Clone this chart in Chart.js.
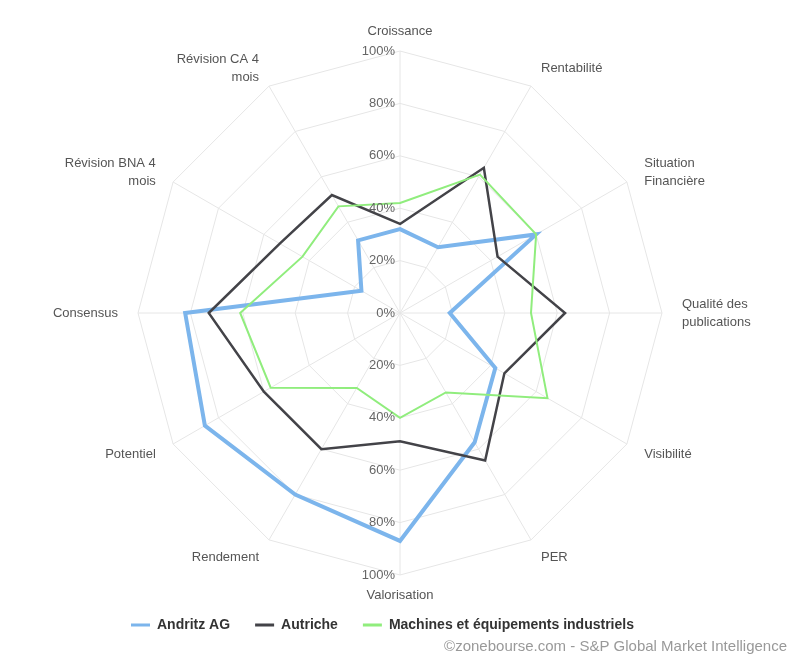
<!DOCTYPE html>
<html>
<head>
<meta charset="utf-8">
<script src="https://cdn.jsdelivr.net/npm/chart.js@4.4.1/dist/chart.umd.min.js"></script>
<style>
  html, body { margin: 0; padding: 0; background: #fff; }
  #wrap { width: 808px; height: 665px; position: relative; }
</style>
</head>
<body>
<div id="wrap"><canvas id="radar"></canvas></div>
<script>
'use strict';

const categories = [
  'Croissance', 'Rentabilité', ['Situation', 'Financière'], ['Qualité des', 'publications'],
  'Visibilité', 'PER', 'Valorisation', 'Rendement', 'Potentiel', 'Consensus',
  ['Révision BNA 4', 'mois'], ['Révision CA 4', 'mois']
];
const andritz = [32, 29, 60, 19, 42, 57, 87, 80, 86, 82, 17, 32];
const autriche = [34, 64, 43, 63, 46, 65, 49, 60, 60, 73, 53, 52];
const machines = [42, 61, 60, 50, 65, 35, 40, 33, 57, 61, 43, 47];
const tickValues = [0, 20, 40, 60, 80, 100];
const tickLabels = ['0%', '20%', '40%', '60%', '80%', '100%'];
const credits = '©zonebourse.com - S&P Global Market Intelligence';

const FONT = '"Liberation Sans", Arial, sans-serif';

// axis labels + percent ticks (up and down), drawn from the radial scale
const radarText = {
  id: 'radarText',
  afterDatasetsDraw(chart) {
    const scale = chart.scales.r;
    const ctx = chart.ctx;
    ctx.save();

    ctx.font = '13px ' + FONT;
    ctx.fillStyle = '#555';
    ctx.textBaseline = 'middle';
    categories.forEach((label, i) => {
      const pos = scale.getPointPosition(i, scale.drawingArea + 20);
      const dx = pos.x - scale.xCenter;
      ctx.textAlign = Math.abs(dx) < 2 ? 'center' : (dx > 0 ? 'left' : 'right');
      const lines = Array.isArray(label) ? label : [label];
      const top = pos.y - (lines.length - 1) * 9;
      lines.forEach((line, k) => ctx.fillText(line, pos.x, top + k * 18));
    });

    ctx.fillStyle = '#666';
    ctx.textAlign = 'right';
    tickValues.forEach((v, i) => {
      const d = scale.getDistanceFromCenterForValue(v);
      ctx.fillText(tickLabels[i], scale.xCenter - 5, scale.yCenter - d);
      if (v > 0) ctx.fillText(tickLabels[i], scale.xCenter - 5, scale.yCenter + d);
    });

    ctx.font = '15px ' + FONT;
    ctx.fillStyle = '#999';
    ctx.fillText(credits, chart.width - 21, chart.height - 18);
    ctx.restore();
  }
};

new Chart(document.getElementById('radar'), {
  type: 'radar',
  data: {
    labels: categories,
    datasets: [
      { label: 'Andritz AG', data: andritz, borderColor: '#7cb5ec', borderWidth: 4, order: 3 },
      { label: 'Autriche', data: autriche, borderColor: '#434348', borderWidth: 2.5, order: 2 },
      { label: 'Machines et équipements industriels', data: machines, borderColor: '#90ed7d', borderWidth: 2, order: 1 }
    ]
  },
  options: {
    responsive: true,
    maintainAspectRatio: false,
    animation: false,
    layout: { padding: { left: 106, right: 114, top: 51, bottom: 23 } },
    elements: {
      line: { fill: false, tension: 0 },
      point: { radius: 0, hoverRadius: 0 }
    },
    scales: {
      r: {
        min: 0,
        max: 100,
        ticks: { display: false, stepSize: 20 },
        grid: { color: '#e6e6e6', lineWidth: 1 },
        angleLines: { color: '#e6e6e6', lineWidth: 1 },
        pointLabels: { display: false }
      }
    },
    plugins: {
      tooltip: { enabled: false },
      legend: {
        position: 'bottom',
        align: 'start',
        title: { display: true, text: '', padding: 0, font: { size: 14 } },
        labels: {
          usePointStyle: true,
          pointStyle: 'line',
          pointStyleWidth: 19,
          padding: 25,
          color: '#333',
          font: { family: FONT, size: 14, weight: 'bold' },
          generateLabels(chart) {
            const items = Chart.defaults.plugins.legend.labels.generateLabels(chart);
            items.forEach(it => { it.lineWidth = 3; });
            return items.sort((a, b) => a.datasetIndex - b.datasetIndex);
          }
        }
      }
    }
  },
  plugins: [radarText]
});
</script>
</body>
</html>
